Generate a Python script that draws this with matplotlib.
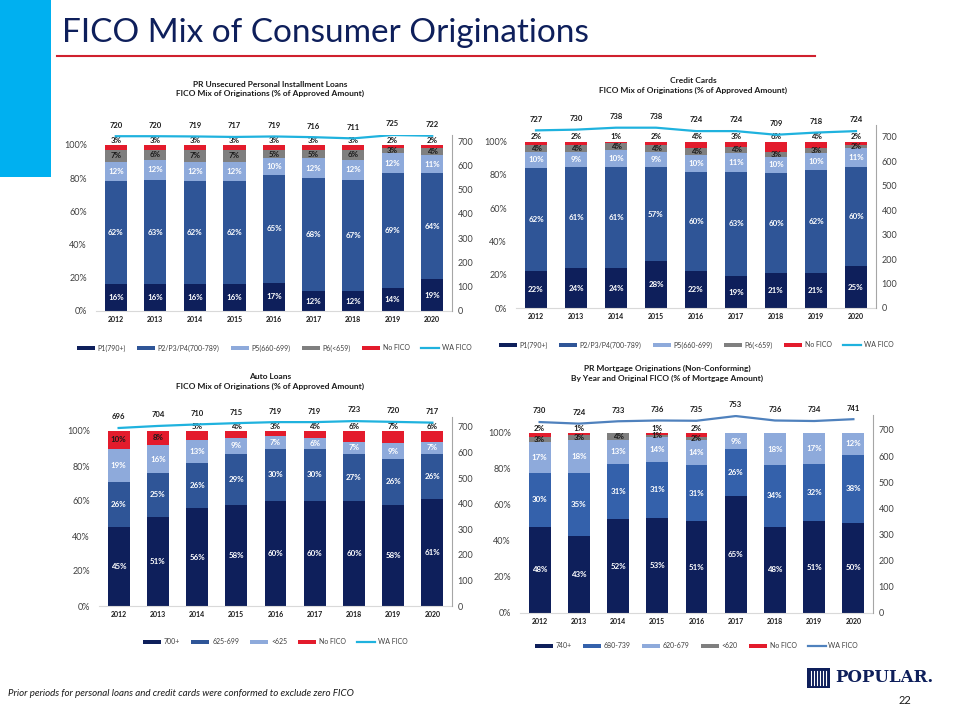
import matplotlib.pyplot as plt
from matplotlib.patches import Rectangle, Patch
from matplotlib.lines import Line2D

plt.rcParams['font.family'] = ['Lato', 'DejaVu Sans']

years = ['2012', '2013', '2014', '2015', '2016', '2017', '2018', '2019', '2020']

# PR unsecured personal installment loans
pl_p1 = [16, 16, 16, 16, 17, 12, 12, 14, 19]
pl_p2 = [62, 63, 62, 62, 65, 68, 67, 69, 64]
pl_p5 = [12, 12, 12, 12, 10, 12, 12, 12, 11]
pl_p6 = [7, 6, 7, 7, 5, 5, 6, 3, 4]
pl_nofico = [3, 3, 3, 3, 3, 3, 3, 2, 2]
pl_wa = [720, 720, 719, 717, 719, 716, 711, 725, 722]

# credit cards
cc_p1 = [22, 24, 24, 28, 22, 19, 21, 21, 25]
cc_p2 = [62, 61, 61, 57, 60, 63, 60, 62, 60]
cc_p5 = [10, 9, 10, 9, 10, 11, 10, 10, 11]
cc_p6 = [4, 4, 4, 4, 4, 4, 3, 3, 2]
cc_nofico = [2, 2, 1, 2, 4, 3, 6, 4, 2]
cc_wa = [727, 730, 738, 738, 724, 724, 709, 718, 724]

# auto loans
al_700 = [45, 51, 56, 58, 60, 60, 60, 58, 61]
al_625 = [26, 25, 26, 29, 30, 30, 27, 26, 26]
al_lt625 = [19, 16, 13, 9, 7, 6, 7, 9, 7]
al_nofico = [10, 8, 5, 4, 3, 4, 6, 7, 6]
al_wa = [696, 704, 710, 715, 719, 719, 723, 720, 717]

# PR mortgage (non-conforming)
mg_740 = [48, 43, 52, 53, 51, 65, 48, 51, 50]
mg_680 = [30, 35, 31, 31, 31, 26, 34, 32, 38]
mg_620 = [17, 18, 13, 14, 14, 9, 18, 17, 12]
mg_lt620 = [3, 3, 4, 1, 2, 0, 0, 0, 0]
mg_nofico = [2, 1, 0, 1, 2, 0, 0, 0, 0]
mg_wa = [730, 724, 733, 736, 735, 753, 736, 734, 741]

NAVY = '#0e1f5b'
MID = '#2f5597'
MID2 = '#3461ab'
LIGHT = '#8eaadb'
GRAY = '#7f7f7f'
RED = '#e31b2c'
CYAN = '#1fb2de'
STEEL = '#4f81bd'
DARK = '#1a1a1a'
TICK = '#404040'

W, H = 960, 720
fig = plt.figure(figsize=(9.6, 7.2), dpi=100)


def px_axes(l, t, r, b):
    return fig.add_axes([l / W, 1 - b / H, (r - l) / W, (b - t) / H])


def draw_panel(box, series, wa, wa_color, ytop, rtop, title, title_x, title_y, legend_y):
    ax = px_axes(*box)
    x = list(range(len(years)))
    bottom = [0.0] * len(years)
    n = len(series)
    for k, (name, vals, color, tcol) in enumerate(series):
        h = [v / 100 for v in vals]
        ax.bar(x, h, 0.56, bottom=bottom, color=color, zorder=2)
        for i, v in enumerate(vals):
            if v == 0:
                continue
            if k == n - 1 and v < 8:
                # small No FICO slices get their label just above the bar
                ax.annotate(f'{v}%', (i, 1.0), xytext=(0, 3.5), textcoords='offset points',
                            ha='center', va='center', fontsize=5.7, fontweight='bold', color=DARK)
            else:
                ax.text(i, bottom[i] + h[i] / 2, f'{v}%', ha='center', va='center',
                        fontsize=5.7, fontweight='bold', color=tcol, zorder=3)
        bottom = [b + hh for b, hh in zip(bottom, h)]

    ax.set_xlim(-0.5, len(years) - 0.5)
    ax.set_ylim(0, ytop)
    ax.set_yticks([0, 0.2, 0.4, 0.6, 0.8, 1.0])
    ax.set_yticklabels(['0%', '20%', '40%', '60%', '80%', '100%'])
    ax.set_xticks(x)
    ax.set_xticklabels(years, fontsize=5, fontweight='bold', color=DARK)
    ax.tick_params(axis='y', length=0, pad=6.5, labelsize=6.5, labelcolor=TICK)
    ax.tick_params(axis='x', length=0, pad=3.5)
    for s in ('top', 'left', 'right'):
        ax.spines[s].set_visible(False)
    ax.spines['bottom'].set_color('#d9d9d9')

    ax2 = ax.twinx()
    ax2.plot(x, wa, color=wa_color, lw=1.6, zorder=4)
    for i, v in enumerate(wa):
        ax2.annotate(str(v), (i, v), xytext=(0, 8), textcoords='offset points',
                     ha='center', va='center', fontsize=5.5, fontweight='bold', color=DARK)
    ax2.set_ylim(0, rtop)
    ax2.set_yticks(range(0, 701, 100))
    ax2.tick_params(axis='y', length=0, pad=4, labelsize=6.5, labelcolor=TICK)
    for s in ('top', 'left', 'bottom'):
        ax2.spines[s].set_visible(False)
    ax2.spines['right'].set_color('#a6a6a6')

    fig.text(title_x / W, 1 - title_y / H, title, ha='center', va='center',
             fontsize=6, fontweight='bold', color=DARK, linespacing=1.45)

    handles = [Patch(facecolor=c, edgecolor='none', label=nm) for nm, _, c, _ in series]
    handles.append(Line2D([0], [0], color=wa_color, lw=1.6, label='WA FICO'))
    cx = (box[0] + box[2]) / 2
    fig.legend(handles=handles, loc='center', bbox_to_anchor=(cx / W, 1 - legend_y / H),
               ncol=len(handles), frameon=False, fontsize=5, handlelength=2.6,
               handleheight=0.6, columnspacing=1.6, handletextpad=0.4,
               labelcolor=TICK)
    return ax


draw_panel((96, 135, 452, 311),
           [('P1(790+)', pl_p1, NAVY, 'white'),
            ('P2/P3/P4(700-789)', pl_p2, MID, 'white'),
            ('P5(660-699)', pl_p5, LIGHT, 'white'),
            ('P6(<659)', pl_p6, GRAY, DARK),
            ('No FICO', pl_nofico, RED, DARK)],
           pl_wa, CYAN, 1.06, 725,
           'PR Unsecured Personal Installment Loans\nFICO Mix of Originations (% of Approved Amount)',
           270, 89, 348)

draw_panel((516, 125, 876, 308),
           [('P1(790+)', cc_p1, NAVY, 'white'),
            ('P2/P3/P4(700-789)', cc_p2, MID, 'white'),
            ('P5(660-699)', cc_p5, LIGHT, 'white'),
            ('P6(<659)', cc_p6, GRAY, DARK),
            ('No FICO', cc_nofico, RED, DARK)],
           cc_wa, CYAN, 1.10, 749,
           'Credit Cards\nFICO Mix of Originations (% of Approved Amount)',
           693, 85.5, 345)

draw_panel((99, 417, 452, 606),
           [('700+', al_700, NAVY, 'white'),
            ('625-699', al_625, MID, 'white'),
            ('<625', al_lt625, LIGHT, 'white'),
            ('No FICO', al_nofico, RED, DARK)],
           al_wa, CYAN, 1.08, 739,
           'Auto Loans\nFICO Mix of Originations (% of Approved Amount)',
           270, 381.5, 642)

draw_panel((520, 415, 873, 613),
           [('740+', mg_740, NAVY, 'white'),
            ('680-739', mg_680, MID2, 'white'),
            ('620-679', mg_620, LIGHT, 'white'),
            ('<620', mg_lt620, GRAY, DARK),
            ('No FICO', mg_nofico, RED, DARK)],
           mg_wa, STEEL, 1.10, 757,
           'PR Mortgage Originations (Non-Conforming)\nBy Year and Original FICO (% of Mortgage Amount)',
           667, 373, 646)

# slide header
fig.patches.append(Rectangle((0, 1 - 177 / H), 51 / W, 177 / H, transform=fig.transFigure,
                             facecolor='#00b0f0', edgecolor='none'))
fig.text(62 / W, 1 - 42 / H, 'FICO Mix of Consumer Originations', fontsize=24,
         color=NAVY, va='baseline')
fig.lines.append(Line2D([57 / W, 815 / W], [1 - 56 / H, 1 - 56 / H], transform=fig.transFigure,
                        color='#d0202e', lw=1.5))

# footer
fig.text(8 / W, 1 - 693 / H, 'Prior periods for personal loans and credit cards were conformed to exclude zero FICO',
         fontsize=7, style='italic', color=DARK, va='center')
fig.patches.append(Rectangle((807 / W, 1 - 688 / H), 23 / W, 20 / H, transform=fig.transFigure,
                             facecolor=NAVY, edgecolor='none'))
for dx in (811, 814, 817, 820, 823, 826):
    fig.lines.append(Line2D([dx / W, dx / W], [1 - 685 / H, 1 - 671 / H], transform=fig.transFigure,
                            color='white', lw=0.8))
fig.text(835 / W, 1 - 678 / H, 'POPULAR.', fontsize=12, fontweight='bold',
         family='DejaVu Serif', color=NAVY, va='center')
fig.text(905 / W, 1 - 700 / H, '22', fontsize=8, color=DARK, ha='center', va='center')

fig.savefig('out.png', dpi=100)
